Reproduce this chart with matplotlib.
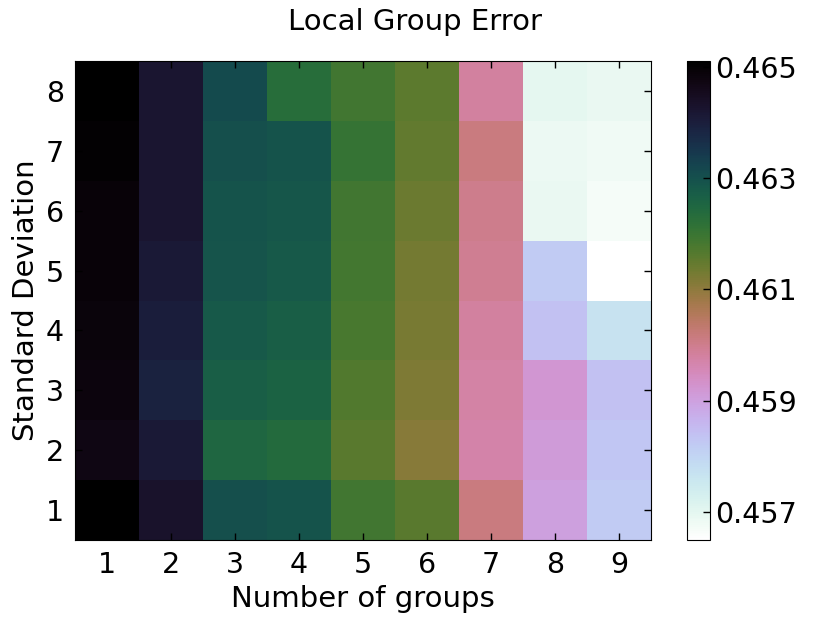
import matplotlib
matplotlib.use('Agg')
import matplotlib.pyplot as plt
import numpy as np

# Данные: строки = стандартное отклонение 1..8, столбцы = число групп 1..9
n_groups = [1, 2, 3, 4, 5, 6, 7, 8, 9]
std_dev = [1, 2, 3, 4, 5, 6, 7, 8]

sd1 = [0.46510, 0.46430, 0.46300, 0.46295, 0.46190, 0.46160, 0.46015, 0.45900, 0.45820]
sd2 = [0.46470, 0.46410, 0.46250, 0.46240, 0.46160, 0.46110, 0.45970, 0.45910, 0.45830]
sd3 = [0.46480, 0.46390, 0.46270, 0.46260, 0.46170, 0.46120, 0.45975, 0.45920, 0.45840]
sd4 = [0.46485, 0.46400, 0.46280, 0.46270, 0.46180, 0.46125, 0.45980, 0.45840, 0.45770]
sd5 = [0.46490, 0.46410, 0.46290, 0.46280, 0.46185, 0.46130, 0.45995, 0.45820, 0.45650]
sd6 = [0.46490, 0.46420, 0.46295, 0.46285, 0.46190, 0.46140, 0.46000, 0.45690, 0.45670]
sd7 = [0.46500, 0.46420, 0.46300, 0.46295, 0.46205, 0.46150, 0.46015, 0.45685, 0.45680]
sd8 = [0.46510, 0.46420, 0.46310, 0.46230, 0.46190, 0.46155, 0.45980, 0.45700, 0.45690]

error = np.array([sd1, sd2, sd3, sd4, sd5, sd6, sd7, sd8])

cbar_ticks = [0.457, 0.459, 0.461, 0.463, 0.465]

fs = 20.5
fig = plt.figure(figsize=(8.3, 6.23), dpi=100)
ax = fig.add_axes([0.0904, 0.1332, 0.6939, 0.7688])
cax = fig.add_axes([0.8277, 0.1332, 0.0277, 0.7688])

im = ax.imshow(error, cmap='cubehelix_r', origin='lower', aspect='auto',
               interpolation='nearest',
               extent=[n_groups[0] - 0.5, n_groups[-1] + 0.5, std_dev[0] - 0.5, std_dev[-1] + 0.5])

ax.set_xticks(n_groups)
ax.set_yticks(std_dev)
ax.tick_params(direction='in', top=True, right=True, length=5, width=1,
               labelsize=fs, pad=8)
ax.set_xlabel('Number of groups', fontsize=21)
ax.set_ylabel('Standard Deviation', fontsize=21)
fig.suptitle('Local Group Error', fontsize=21, x=0.5, y=0.965, va='center')

cb = fig.colorbar(im, cax=cax, ticks=cbar_ticks)
cb.ax.tick_params(direction='in', length=5, width=1, labelsize=fs, pad=4)
cb.ax.set_yticklabels(['%.3f' % t for t in cbar_ticks])

fig.savefig('out.png', dpi=100)
